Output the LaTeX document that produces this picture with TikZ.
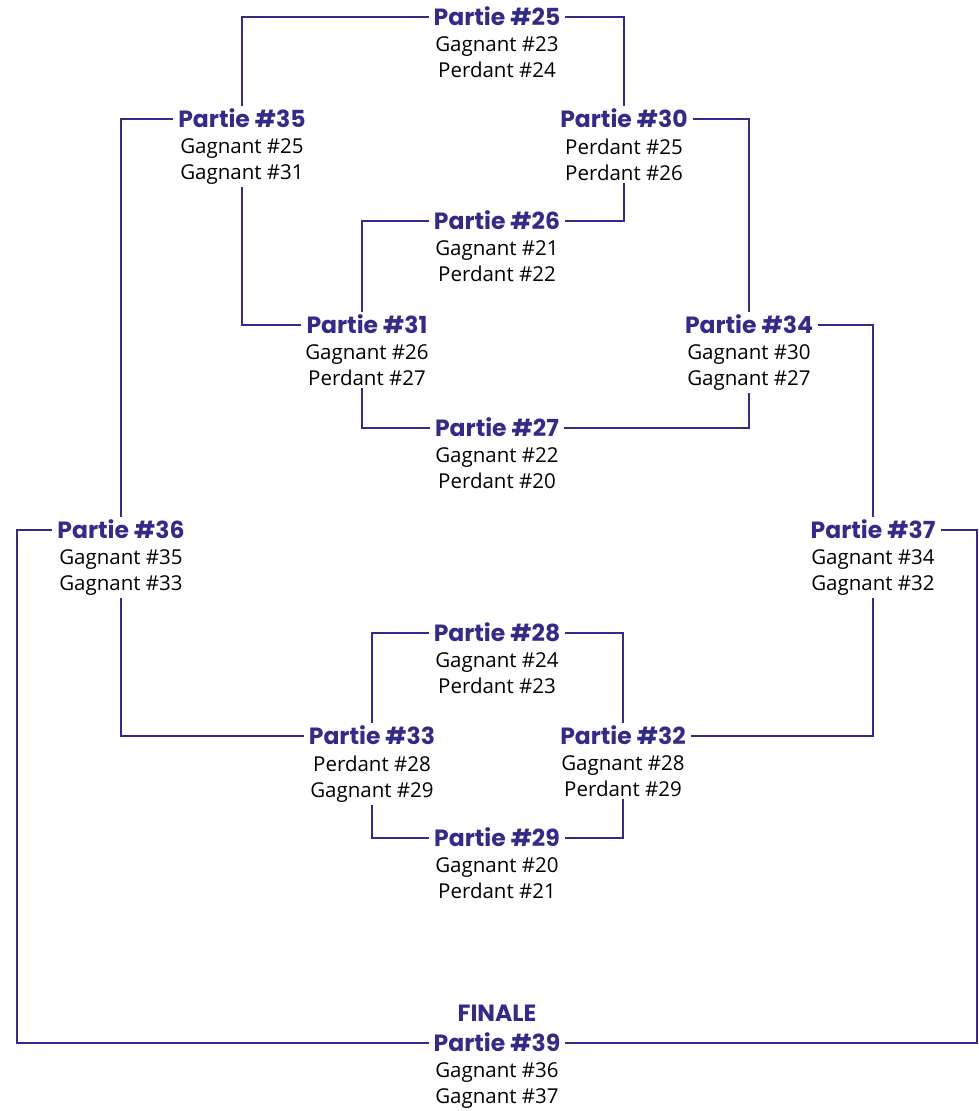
\documentclass[tikz,border=0pt]{standalone}
\usepackage{fontspec}
\setmainfont{Open Sans}
\newfontfamily\titlefont{Poppins}
\usepackage{tikz}
\usetikzlibrary{positioning}

\definecolor{matchpurple}{RGB}{52,42,135}

\begin{document}
\begin{tikzpicture}[
  x=1pt, y=-1pt,
	title/.style={
	text=matchpurple,
	inner xsep=5pt,
	inner ysep=4pt,
	text height=17pt,
	text depth=0pt,
	font=\titlefont\bfseries\fontsize{23.5}{27}\selectfont},
	detail/.style={
	align=center,
	inner sep=2pt,
	below=5pt of #1,
	font=\fontsize{20.5}{26}\selectfont},
	link/.style={
	draw=matchpurple,
	line width=2.5pt
	}]

	\useasboundingbox (0,0) rectangle (978,1111);

	% Upper bracket
	\node [title] at (497,17)   (t25) {Partie \#25};
	\node [detail=t25] (d25) {Gagnant \#23\\Perdant \#24};
	\node [title] at (242,119)  (t35) {Partie \#35};
	\node [detail=t35] (d35) {Gagnant \#25\\Gagnant \#31};
	\node [title] at (624,119)  (t30) {Partie \#30};
	\node [detail=t30] (d30) {Perdant \#25\\Perdant \#26};
	\node [title] at (497,221)  (t26) {Partie \#26};
	\node [detail=t26] (d26) {Gagnant \#21\\Perdant \#22};
	\node [title] at (367,325)  (t31) {Partie \#31};
	\node [detail=t31] (d31) {Gagnant \#26\\Perdant \#27};
	\node [title] at (749,325)  (t34) {Partie \#34};
	\node [detail=t34] (d34) {Gagnant \#30\\Gagnant \#27};
	\node [title] at (497,428)  (t27) {Partie \#27};
	\node [detail=t27] (d27) {Gagnant \#22\\Perdant \#20};

	% Semi-finals
	\node [title] at (121,530)  (t36) {Partie \#36};
	\node [detail=t36] (d36) {Gagnant \#35\\Gagnant \#33};
	\node [title] at (873,530)  (t37) {Partie \#37};
	\node [detail=t37] (d37) {Gagnant \#34\\Gagnant \#32};

	% Lower bracket
	\node [title] at (497,633)  (t28) {Partie \#28};
	\node [detail=t28] (d28) {Gagnant \#24\\Perdant \#23};
	\node [title] at (372,736)  (t33) {Partie \#33};
	\node [detail=t33] (d33) {Perdant \#28\\Gagnant \#29};
	\node [title] at (623,736)  (t32) {Partie \#32};
	\node [detail=t32] (d32) {Gagnant \#28\\Perdant \#29};
	\node [title] at (497,838)  (t29) {Partie \#29};
	\node [detail=t29] (d29) {Gagnant \#20\\Perdant \#21};

	% Final
	\node [title] at (497,1043) (t39) {Partie \#39};
	\node [title, above=5pt of t39] (fin) {FINALE};
	\node [detail=t39] (d39) {Gagnant \#36\\Gagnant \#37};
	\coordinate (outL) at (17,1043);
	\coordinate (outR) at (977,1043);

	% Upper links
	\draw[link] (t25.west) -| (t35.north);
	\draw[link] (t25.east) -| (t30.north);
	\draw[link] (t35.west) -| (t36.north);
	\draw[link] (d35.south) |- (t31.west);
	\draw[link] (t30.east) -| (t34.north);
	\draw[link] (d30.south) |- (t26.east);
	\draw[link] (t26.west) -| ([xshift=-5pt]t31.north);
	\draw[link] ([xshift=-5pt]d31.south) |- (t27.west);
	\draw[link] (t27.east) -| (d34.south);
	\draw[link] (t34.east) -| (t37.north);

	% Lower links
	\draw[link] (d36.south) |- (t33.west);
	\draw[link] (d37.south) |- (t32.east);
	\draw[link] (t28.west) -| (t33.north);
	\draw[link] (t28.east) -| (t32.north);
	\draw[link] (d33.south) |- (t29.west);
	\draw[link] (d32.south) |- (t29.east);

	% Final links
	\draw[link] (t36.west) -| (outL) -- (t39.west);
	\draw[link] (t37.east) -| (outR) -- (t39.east);

\end{tikzpicture}
\end{document}
